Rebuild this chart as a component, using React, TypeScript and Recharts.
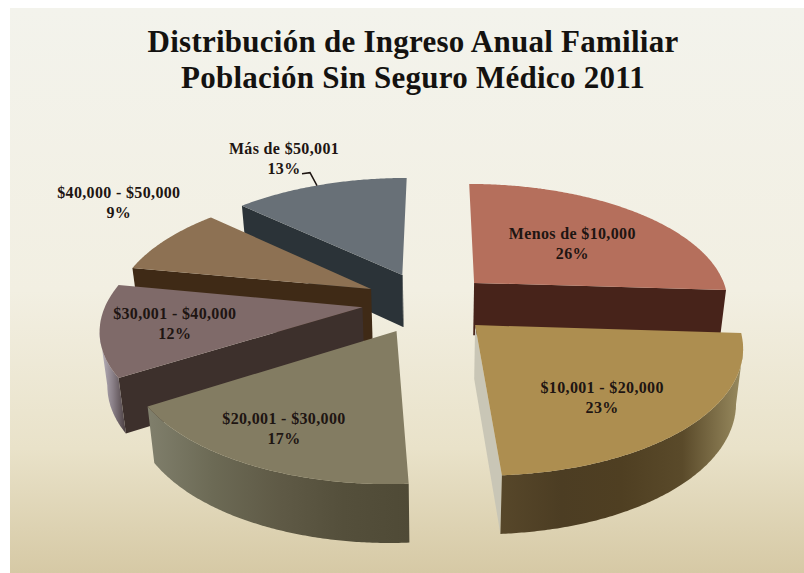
import React from "react";
import { PieChart, Pie } from "recharts";

const categories = ["Menos de $10,000", "$10,001 - $20,000", "$20,001 - $30,000", "$30,001 - $40,000", "$40,000 - $50,000", "Más de $50,001"];
const shares = [26, 23, 17, 12, 9, 13];
const titleLines = ["Distribución de Ingreso Anual Familiar", "Población Sin Seguro Médico 2011"];

// Painter's order: front slices are drawn last (Menos, then round the left side, Gold last)
const drawOrder = [0, 5, 4, 3, 2, 1];

// Styling / layout constants
const CX = 437, CY = 302, RADIUS = 256, DEPTH = 53;
const TILT = 0.467, PERSP = 0.0006, BASE_SHRINK = 0.977, MIN_SIDE_RUN = 12;
const topColors = ["#b56f5c", "#ad8e50", "#837c62", "#7f6a69", "#8d7153", "#687077"];
const sideColors = ["#47231a", "#c9c6b6", "#4f4a36", "#3d302c", "#3f2a16", "#2b3338"];
const rimStops: string[][] = [
  ["#47231a", "#47231a"],
  ["#57472a", "#4c3d23", "#4f3f22", "#5a4a2a", "#9a8c60"],
  ["#807f6c", "#6c6a55", "#5f5a46", "#544f3b", "#4f4a36"],
  ["#c0bac4", "#8a8088", "#4a3e40"],
  ["#3f2a16", "#3f2a16"],
  ["#2b3338", "#2b3338"],
];
const explode: [number, number][] = [[38, 42], [37, -48], [-39, -60], [-74, -11], [-67, 28], [-36, 60]];
const labelRadius = [0.555, 0.68, 0.77, 0.72, 1.43, 1.37];
const labelShift = [-2.8, -5.8, -1, 0, -8.7, 2.2];

const tableData = drawOrder.map((i) => ({ name: categories[i], value: shares[i], idx: i }));
const total = shares.reduce((a, b) => a + b, 0);
// Menos runs clockwise from 12 o'clock, so its counter-clockwise start lies past 12 o'clock.
const startAngle = 90 - (shares[0] / total) * 360;

const RAD = Math.PI / 180;
type P = { x: number; y: number };
const project = (X: number, Y: number, base = false): P => {
  const s = 1 / (1 + PERSP * Y);
  return base
    ? { x: CX + X * s * BASE_SHRINK, y: CY - TILT * Y * s + DEPTH * Math.sqrt(s) }
    : { x: CX + X * s, y: CY - TILT * Y * s };
};
const poly = (pts: P[]) => pts.map((p, i) => `${i ? "L" : "M"}${p.x.toFixed(1)},${p.y.toFixed(1)}`).join("") + "Z";

function Slice(props: any) {
  const i: number = props.idx ?? props.payload?.idx;
  const R: number = props.outerRadius;
  const hi = Math.max(props.startAngle, props.endAngle);
  const lo = Math.min(props.startAngle, props.endAngle);
  const [ox, oy] = explode[i];
  const at = (a: number, r: number, base = false) =>
    project(ox + r * Math.cos(a * RAD), oy + r * Math.sin(a * RAD), base);
  const n = Math.ceil(hi - lo) * 2;
  const angles = Array.from({ length: n + 1 }, (_, k) => hi - ((hi - lo) * k) / n);
  const top = angles.map((a) => at(a, R));
  const bottom = angles.map((a) => at(a, R, true));
  const apex = at(0, 0);
  const apexB = at(0, 0, true);
  const first = top[0], last = top[n];
  const rimIdx: number[] = [];
  for (let k = 0; k < n; k++) if (top[k + 1].x < top[k].x) { if (!rimIdx.length || rimIdx[rimIdx.length - 1] !== k) rimIdx.push(k); rimIdx.push(k + 1); }
  const rim = rimIdx.length ? [...rimIdx.map((k) => top[k]), ...rimIdx.slice().reverse().map((k) => bottom[k])] : null;
  const stops = rimStops[i];
  const id = `rim-${i}`;
  return (
    <g>
      <defs>
        <linearGradient id={id} x1="0" x2="1" y1="0" y2="0">
          {stops.map((c, k) => <stop key={k} offset={k / (stops.length - 1)} stopColor={c} />)}
        </linearGradient>
      </defs>
      {apex.x - first.x > MIN_SIDE_RUN && <path d={poly([apex, first, bottom[0], apexB])} fill={sideColors[i]} />}
      {last.x - apex.x > MIN_SIDE_RUN && <path d={poly([last, apex, apexB, bottom[n]])} fill={sideColors[i]} />}
      {Math.abs(last.x - apex.x) <= MIN_SIDE_RUN && <path d={poly([apex, { x: apex.x + 0.5, y: apex.y }, { x: apexB.x + 0.5, y: apexB.y }, apexB])} fill={sideColors[i]} />}
      {rim && <path d={poly(rim)} fill={`url(#${id})`} />}
      <path d={poly([apex, ...top])} fill={topColors[i]} />
    </g>
  );
}

const FONT = "'Liberation Serif', serif";

function SliceLabel(props: any) {
  const i: number = props.idx ?? props.payload?.idx;
  const [ox, oy] = explode[i];
  const r = labelRadius[i] * props.outerRadius;
  const a = (props.midAngle + labelShift[i]) * RAD;
  const c = project(ox + r * Math.cos(a), oy + r * Math.sin(a));
  const common = { x: c.x, textAnchor: "middle", fontFamily: FONT, fontWeight: 700, fontSize: 16, letterSpacing: 0.35, fill: "#1e1512" } as const;
  return (
    <g>
      <text {...common} y={c.y - 5}>{categories[i]}</text>
      <text {...common} y={c.y + 15}>{shares[i]}%</text>
      {i === 5 && <path d={`M${c.x + 18},${c.y + 15}L${c.x + 26},${c.y + 14}L${c.x + 33},${c.y + 27}`} fill="none" stroke="#1e1512" strokeWidth={1.5} />}
    </g>
  );
}

export default function App() {
  return (
    <div style={{ position: "absolute", left: 0, top: 0, width: 804, height: 573, background: "#fff" }}>
      <div style={{ position: "absolute", left: 10, top: 8, right: 0, bottom: 0, background: "linear-gradient(#f3f3ec 0%, #f2efe2 50%, #e9e2c9 78%, #d6c9a5 100%)" }} />
      <PieChart width={804} height={573} margin={{ top: 0, right: 0, bottom: 0, left: 0 }} style={{ position: "absolute", left: 0, top: 0 }}>
        {titleLines.map((t, k) => (
          <text key={k} x={413} y={52 + k * 36} textAnchor="middle" fontFamily={FONT} fontWeight={700} fontSize={31} letterSpacing={0.25} fill="#141210">{t}</text>
        ))}
        <Pie
          data={tableData}
          dataKey="value"
          nameKey="name"
          cx={CX}
          cy={CY}
          innerRadius={0}
          outerRadius={RADIUS}
          startAngle={startAngle}
          endAngle={startAngle + 360}
          stroke="none"
          isAnimationActive={false}
          rootTabIndex={-1}
          shape={Slice}
          label={SliceLabel}
          labelLine={false}
        />
      </PieChart>
    </div>
  );
}
